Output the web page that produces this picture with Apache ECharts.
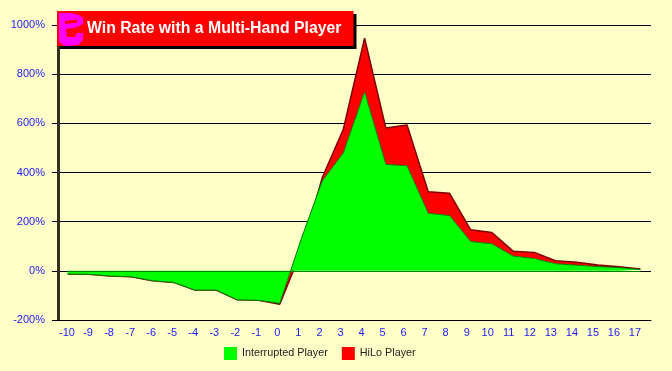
<!DOCTYPE html>
<html><head><meta charset="utf-8">
<style>html,body{margin:0;padding:0;background:#ffffc8}#c{width:672px;height:371px}</style>
<script src="https://cdn.jsdelivr.net/npm/echarts@6/dist/echarts.min.js"></script>
</head><body><div id="c"></div>
<script>
const categories=['-10','-9','-8','-7','-6','-5','-4','-3','-2','-1','0','1','2','3','4','5','6','7','8','9','10','11','12','13','14','15','16','17'];
const interruptedPlayer=[-13,-14,-21,-24,-40,-47,-78,-78,-118,-120,-132,126,365,480,728,433,427,234,225,119,110,60,50,29,23,17,13,5];
const hiloExtra=[0,0,0,0,0,0,0,0,0,0,-4,-50,13,97,218,148,166,88,91,48,46,20,25,12,12,7,4,2];
const titleText='Win Rate with a Multi-Hand Player';
const font='"Liberation Sans",Arial,sans-serif';
const chart=echarts.init(document.getElementById('c'),null,{renderer:'canvas'});
const yBase={type:'value',min:-200,max:1000,interval:200};
chart.setOption({
  animation:false,
  backgroundColor:'#ffffc8',
  title:{text:titleText,left:87,top:21,padding:0,z:20,textStyle:{color:'#fff',fontFamily:font,fontWeight:'bold',fontSize:15.8}},
  legend:{left:224,top:347,padding:0,itemWidth:13,itemHeight:13,itemGap:14,icon:'rect',selectedMode:false,
    data:['Interrupted Player','HiLo Player'],
    textStyle:{color:'#222',fontFamily:font,fontSize:10.8,padding:[0,0,0,0]},itemStyle:{borderWidth:0}},
  grid:[{left:57,right:21,top:25,bottom:51},{left:56.5,width:589,top:25,bottom:51,show:false}],
  xAxis:[
    {type:'category',gridIndex:0,data:categories,boundaryGap:true,
      axisLine:{show:true,onZero:false,lineStyle:{color:'#000',width:1}},axisTick:{show:false},axisLabel:{show:false},splitLine:{show:false}},
    {type:'category',gridIndex:1,data:categories,boundaryGap:true,
      axisLine:{show:false},axisTick:{show:false},splitLine:{show:false},
      axisLabel:{show:true,interval:0,margin:7,color:'#1a1aff',fontFamily:font,fontSize:11}}
  ],
  yAxis:[
    Object.assign({},yBase,{gridIndex:0,axisLine:{show:false},
      axisTick:{show:true,length:5,lineStyle:{color:'#000'}},
      axisLabel:{margin:12,color:'#1a1aff',fontFamily:font,fontSize:11,padding:[2,0,0,0],formatter:function(v){return v+'%';}},
      splitLine:{show:true,lineStyle:{color:'#000',width:1}}}),
    Object.assign({},yBase,{gridIndex:1,show:false})
  ],
  series:[
    {name:'Interrupted Player',type:'line',stack:'win',stackStrategy:'all',data:interruptedPlayer,z:4,
      showSymbol:false,symbol:'none',itemStyle:{color:'#00ff00'},
      lineStyle:{color:'#008000',width:1},areaStyle:{color:'#00ff00',opacity:1},
      markLine:{silent:true,symbol:'none',label:{show:false},lineStyle:{color:'#008000',width:1,type:'solid'},
        data:[[{coord:[categories[0],0]},{coord:[categories[categories.length-1],0]}]]}},
    {name:'HiLo Player',type:'line',stack:'win',stackStrategy:'all',data:hiloExtra,z:3,
      showSymbol:false,symbol:'none',itemStyle:{color:'#ff0000'},
      lineStyle:{color:'#800000',width:1.5},areaStyle:{color:'#ff0000',opacity:1}}
  ],
  graphic:[
    {type:'rect',z:10,shape:{x:57,y:46,width:3,height:274},style:{fill:'#333322'}},
    {type:'rect',z:10,shape:{x:60,y:14,width:296.5,height:35},style:{fill:'#000'}},
    {type:'rect',z:11,shape:{x:57,y:11,width:296.5,height:35},style:{fill:'#ff0000'}},
    {type:'polygon',z:12,shape:{points:[[59,13],[70,13],[79,15],[83,18],[83,24],[76,27.5],[66,29],[67,37],[75,37],[77,33],[83,33],[83,40],[78,45],[65,46],[60,43],[59,40]]},style:{fill:'#ff00ff'}},
    {type:'polygon',z:13,shape:{points:[[65,21],[77,19.5],[77,22.5],[65,24]]},style:{fill:'#ff0000'}}
  ]
});
</script></body></html>
